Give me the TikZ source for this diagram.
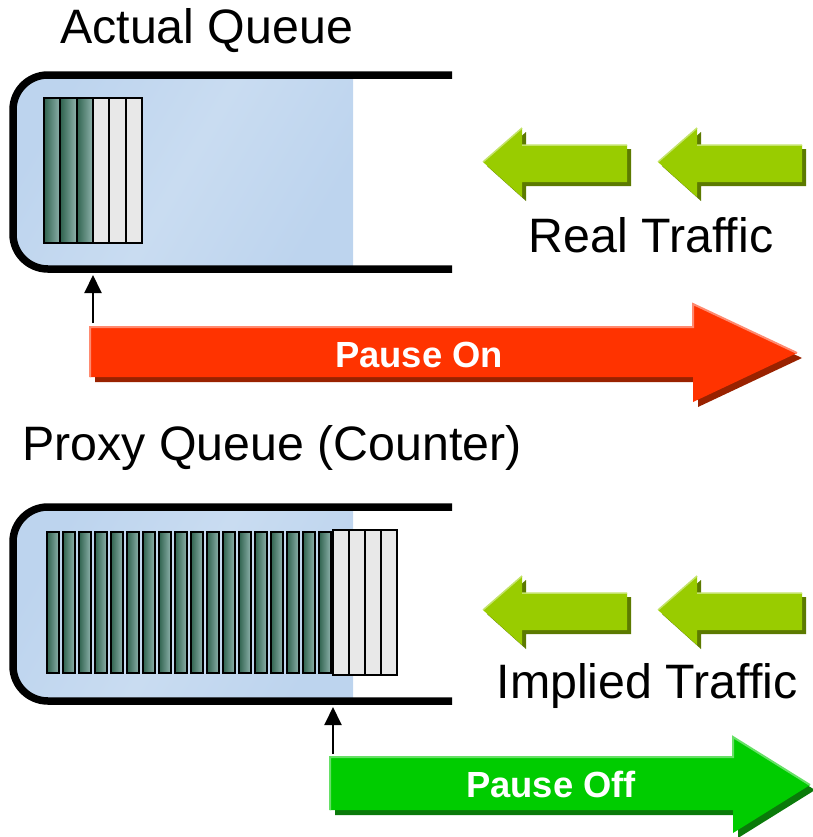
\documentclass[tikz,border=0pt]{standalone}
\usepackage{fontspec}
\setmainfont{Liberation Sans}
\usetikzlibrary{arrows.meta}

\definecolor{qblueD}{HTML}{BDD4EE}
\definecolor{qblueL}{HTML}{C9DCF1}
\definecolor{pktL}{HTML}{30634F}
\definecolor{pktR}{HTML}{8FB2AC}
\definecolor{pktG}{HTML}{E8E8E8}
\definecolor{trafgreen}{HTML}{99CC00}
\definecolor{trafdark}{HTML}{5C7A00}
\definecolor{trafhi}{HTML}{C4E36B}
\definecolor{onred}{HTML}{FF3300}
\definecolor{onredD}{HTML}{992200}
\definecolor{onredH}{HTML}{FF8A70}
\definecolor{offgreen}{HTML}{00CC00}
\definecolor{offgreenD}{HTML}{0A7A0A}
\definecolor{offgreenH}{HTML}{66E066}

\tikzset{
  queueline/.style={line width=7.5bp},
  queuefill/.style={left color=qblueD, right color=qblueD, middle color=qblueL, shading angle=60},
  darkpkt/.style={draw=black, line width=1.8bp, left color=pktL, right color=pktR},
  lightpkt/.style={draw=black, line width=1.8bp, fill=pktG},
  pointer/.style={-{Triangle[width=17bp,length=18bp]}, line width=2bp},
  titletext/.style={inner sep=0pt, font=\fontsize{48.5}{52}\selectfont},
  pausetext/.style={inner sep=0pt, text=white, font=\fontsize{36.5}{40}\selectfont\bfseries},
}

% green traffic arrow, #1 = tip
\newcommand{\trafarrow}[1]{%
  \begin{scope}[shift={#1}]
    \fill[trafdark] (4,4) -- (43,-30) -- (43,-13) -- (148,-13) -- (148,24) -- (43,24) -- (43,39) -- cycle;
    \fill[trafgreen] (0,0) -- (39,-34) -- (39,-17) -- (144,-17) -- (144,20) -- (39,20) -- (39,35) -- cycle;
    \draw[trafhi, line width=1.5bp] (0,0) -- (39,-34) (39,-17) -- (144,-17);
  \end{scope}}

\begin{document}
\begin{tikzpicture}[x=1bp, y=-1bp]
\useasboundingbox (0,0) rectangle (813,837);

% actual queue
\node[titletext, anchor=base west] (actualtitle) at (60,43) {Actual Queue};
\shade[queuefill] (353,75) [rounded corners=35] -- (13,75) -- (13,269) [sharp corners] -- (353,269) -- cycle;
\foreach \i in {0,1,2}
  \draw[darkpkt] ({44+16.33*\i},98) rectangle ++(16.33,145);
\foreach \i in {3,4,5}
  \draw[lightpkt] ({44+16.33*\i},98) rectangle ++(16.33,145);
\draw[queueline] (452,75) [rounded corners=35] -- (13,75) -- (13,269) [sharp corners] -- (452,269);

\trafarrow{(483,162)}
\trafarrow{(658,162)}
\node[titletext, anchor=base] (realtext) at (651,252) {Real Traffic};

% pause on
\fill[onredD] (95,332) -- (698,332) -- (698,309) -- (802,358) -- (698,407) -- (698,382) -- (95,382) -- cycle;
\fill[onred] (90,327) -- (693,327) -- (693,304) -- (797,353) -- (693,402) -- (693,377) -- (90,377) -- cycle;
\draw[onredH, line width=2bp] (90,377) -- (90,327) -- (693,327) -- (693,304) -- (797,353);
\node[pausetext, anchor=base] (pauseon) at (419,367) {Pause On};
\coordinate (onfoot) at (93,323);
\coordinate (actualmark) at (93,275);
\draw[pointer] (onfoot) -- (actualmark);

% proxy queue
\node[titletext, anchor=base west] (proxytitle) at (22,460) {Proxy Queue (Counter)};
\shade[queuefill] (353,507) [rounded corners=35] -- (13,507) -- (13,701) [sharp corners] -- (353,701) -- cycle;
\foreach \i in {0,...,17}
  \draw[darkpkt] ({47+16*\i},532) rectangle ++(12,141);
\foreach \i in {0,...,3}
  \draw[lightpkt] ({333+16*\i},530) rectangle ++(16,145);
\draw[queueline] (452,507) [rounded corners=35] -- (13,507) -- (13,701) [sharp corners] -- (452,701);

\trafarrow{(483,610)}
\trafarrow{(658,610)}
\node[titletext, anchor=base] (impliedtext) at (647,698) {Implied Traffic};

% pause off
\fill[offgreenD] (335,762) -- (738,762) -- (738,742) -- (815,790) -- (738,838) -- (738,815) -- (335,815) -- cycle;
\fill[offgreen] (330,757) -- (733,757) -- (733,737) -- (810,785) -- (733,833) -- (733,810) -- (330,810) -- cycle;
\draw[offgreenH, line width=2bp] (330,810) -- (330,757) -- (733,757) -- (733,737) -- (810,785);
\node[pausetext, anchor=base] (pauseoff) at (551,797) {Pause Off};
\coordinate (offfoot) at (333,754);
\coordinate (proxymark) at (333,707);
\draw[pointer] (offfoot) -- (proxymark);
\end{tikzpicture}
\end{document}
